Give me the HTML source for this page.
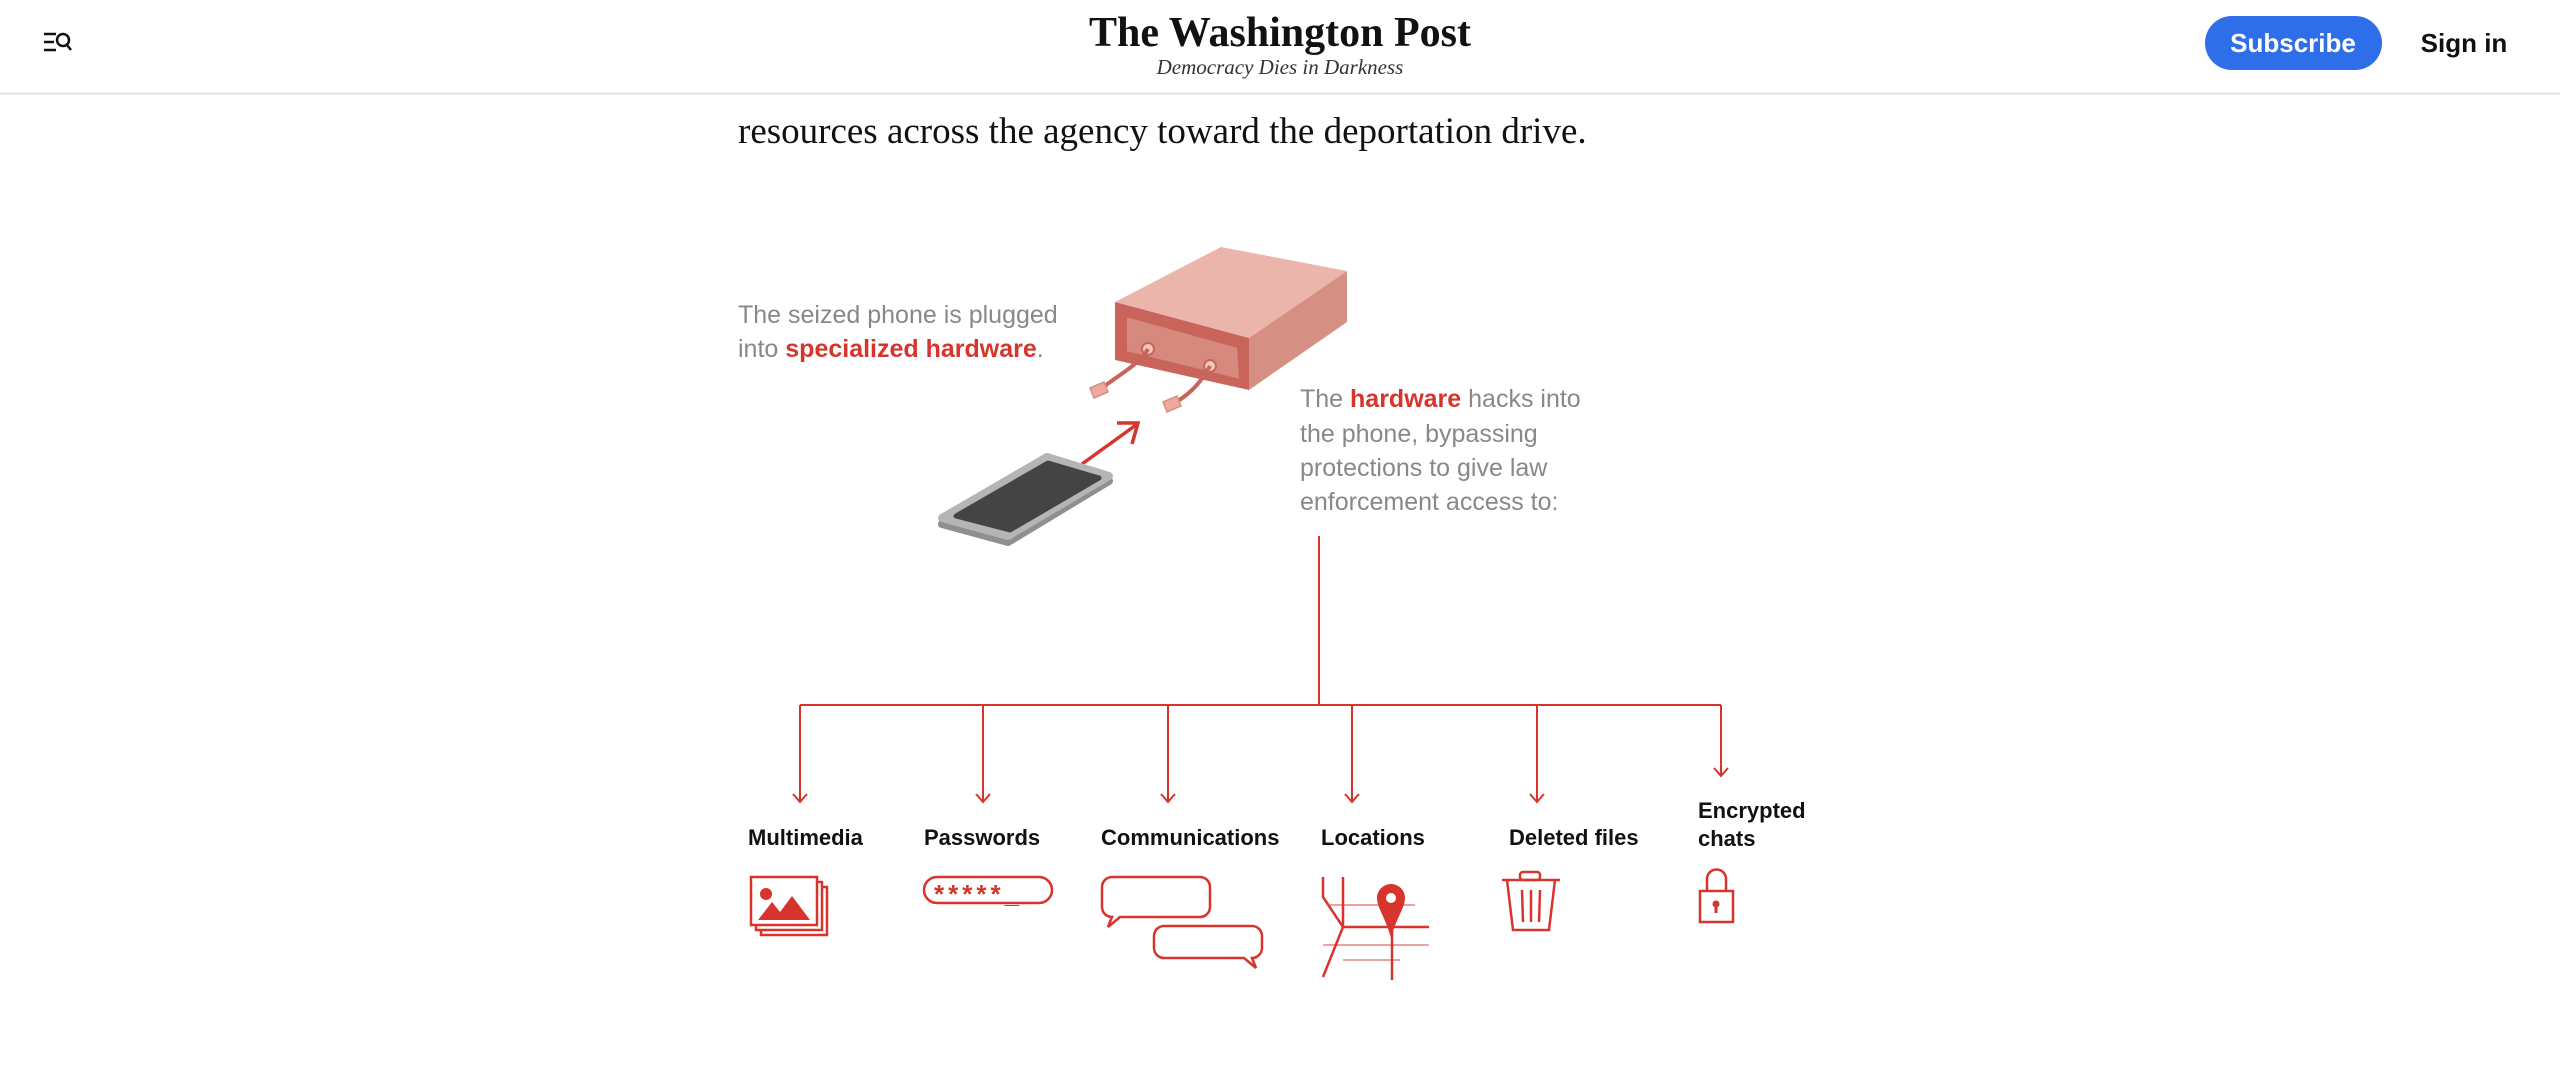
<!DOCTYPE html>
<html><head><meta charset="utf-8">
<style>
html,body{margin:0;padding:0;background:#fff;width:2560px;height:1080px;overflow:hidden}
svg{display:block}
</style></head>
<body>
<svg width="2560" height="1080" viewBox="0 0 2560 1080" xmlns="http://www.w3.org/2000/svg">
<rect x="0" y="0" width="2560" height="93" fill="#fff"/>
<line x1="0" y1="93.5" x2="2560" y2="93.5" stroke="#e2e2e2" stroke-width="2"/>
<g stroke="#111" stroke-width="2.5" fill="none">
<line x1="44" y1="34" x2="56" y2="34"/><line x1="44" y1="42" x2="54" y2="42"/><line x1="44" y1="50" x2="56" y2="50"/>
<circle cx="63" cy="40" r="6"/><line x1="67" y1="45" x2="71" y2="50"/>
</g>
<text x="1280" y="46" text-anchor="middle" font-family="Liberation Serif, serif" font-weight="bold" font-size="42" fill="#111">The Washington Post</text>
<text x="1280" y="74" text-anchor="middle" font-family="Liberation Serif, serif" font-style="italic" font-size="21" fill="#333">Democracy Dies in Darkness</text>
<rect x="2205" y="16" width="177" height="54" rx="27" fill="#2f6ee9"/>
<text x="2293" y="52" text-anchor="middle" font-family="Liberation Sans, sans-serif" font-weight="bold" font-size="26" fill="#fff">Subscribe</text>
<text x="2464" y="52" text-anchor="middle" font-family="Liberation Sans, sans-serif" font-weight="bold" font-size="26" fill="#111">Sign in</text>
<text x="738" y="143" font-family="Liberation Serif, serif" font-size="37" fill="#111">resources across the agency toward the deportation drive.</text>
<g font-family="Liberation Sans, sans-serif" font-size="25" fill="#888">
<text x="738" y="323">The seized phone is plugged</text>
<text x="738" y="357">into <tspan fill="#d6342c" font-weight="bold">specialized hardware</tspan>.</text>
<text x="1300" y="407">The <tspan fill="#d6342c" font-weight="bold">hardware</tspan> hacks into</text>
<text x="1300" y="442">the phone, bypassing</text>
<text x="1300" y="476">protections to give law</text>
<text x="1300" y="510">enforcement access to:</text>
</g>
<polygon points="1115,302 1221,247 1347,271 1249,338" fill="#ecb5ab"/>
<polygon points="1249,338 1347,271 1347,322 1249,390" fill="#d68f83"/>
<polygon points="1115,302 1249,338 1249,390 1115,360" fill="#c9645a"/>
<polygon points="1126,316 1238,347 1240,380 1126,352" fill="#d68a7e" stroke="#c9645a" stroke-width="2"/>
<circle cx="1148" cy="349" r="6" fill="#f4c6bc" stroke="#c9645a" stroke-width="2"/>
<circle cx="1210" cy="366" r="6" fill="#f4c6bc" stroke="#c9645a" stroke-width="2"/>
<path d="M1148,349 C1140,365 1110,380 1100,390" stroke="#c9645a" stroke-width="4" fill="none"/>
<path d="M1210,366 C1200,385 1185,398 1172,404" stroke="#c9645a" stroke-width="4" fill="none"/>
<g fill="#eeaa9e" stroke="#d68f83" stroke-width="1.5">
<polygon points="1090,388 1104,382 1108,392 1094,398"/>
<polygon points="1163,402 1177,396 1181,406 1167,412"/>
</g>
<line x1="1082" y1="464" x2="1136" y2="425" stroke="#d6342c" stroke-width="3.5"/>
<polyline points="1117,423 1138,423 1132,444" stroke="#d6342c" stroke-width="3.5" fill="none"/>
<!-- phone -->
<polygon points="942,524 1047,462 1109,481 1008,542" fill="#8f8f8f" stroke="#8f8f8f" stroke-width="8" stroke-linejoin="round"/>
<polygon points="942,518 1047,457 1109,476 1008,536" fill="#b5b5b5" stroke="#b5b5b5" stroke-width="8" stroke-linejoin="round"/>
<polygon points="956,516 1048,463 1099,478 1010,530" fill="#444" stroke="#444" stroke-width="5" stroke-linejoin="round"/>
<g stroke="#d6342c" stroke-width="2" fill="none">
<line x1="1319" y1="536" x2="1319" y2="705"/>
<line x1="800" y1="705" x2="1721" y2="705"/>
<line x1="800" y1="705" x2="800" y2="802"/><polyline points="793,794 800,802 807,794"/>
<line x1="983" y1="705" x2="983" y2="802"/><polyline points="976,794 983,802 990,794"/>
<line x1="1168" y1="705" x2="1168" y2="802"/><polyline points="1161,794 1168,802 1175,794"/>
<line x1="1352" y1="705" x2="1352" y2="802"/><polyline points="1345,794 1352,802 1359,794"/>
<line x1="1537" y1="705" x2="1537" y2="802"/><polyline points="1530,794 1537,802 1544,794"/>
<line x1="1721" y1="705" x2="1721" y2="776"/><polyline points="1714,768 1721,776 1728,768"/>
</g>
<g font-family="Liberation Sans, sans-serif" font-weight="bold" font-size="22" fill="#111">
<text x="748" y="845">Multimedia</text>
<text x="924" y="845">Passwords</text>
<text x="1101" y="845">Communications</text>
<text x="1321" y="845">Locations</text>
<text x="1509" y="845">Deleted files</text>
<text x="1698" y="818">Encrypted</text>
<text x="1698" y="846">chats</text>
</g>
<g stroke="#d6342c" stroke-width="2.5" fill="none">
<rect x="761" y="887" width="66" height="48" fill="#fff"/>
<rect x="756" y="882" width="66" height="48" fill="#fff"/>
<rect x="751" y="877" width="66" height="48" fill="#fff"/>
<rect x="924" y="877" width="128" height="26" rx="13"/>
<path d="M1112,877 h88 a10,10 0 0 1 10,10 v20 a10,10 0 0 1 -10,10 h-80 l-12,10 l4,-10 a10,10 0 0 1 -10,-10 v-20 a10,10 0 0 1 10,-10 z" fill="#fff"/>
<path d="M1164,926 h88 a10,10 0 0 1 10,10 v12 a10,10 0 0 1 -10,10 l4,10 l-12,-10 h-80 a10,10 0 0 1 -10,-10 v-12 a10,10 0 0 1 10,-10 z" fill="#fff"/>
<path d="M1323,877 v20 l20,30 l-20,50" />
<line x1="1343" y1="877" x2="1343" y2="927"/>
<line x1="1343" y1="927" x2="1429" y2="927"/>
<line x1="1392" y1="910" x2="1392" y2="980"/>
<line x1="1330" y1="905" x2="1415" y2="905" stroke-width="1.5" opacity=".6"/>
<line x1="1323" y1="945" x2="1429" y2="945" stroke-width="1.5" opacity=".6"/>
<line x1="1343" y1="960" x2="1400" y2="960" stroke-width="1.5" opacity=".6"/>
<line x1="1502" y1="880" x2="1560" y2="880"/>
<rect x="1520" y="872" width="20" height="8" rx="3"/>
<path d="M1507,880 l6,50 h36 l6,-50"/>
<line x1="1522" y1="890" x2="1523" y2="922"/><line x1="1531" y1="890" x2="1531" y2="922"/><line x1="1540" y1="890" x2="1539" y2="922"/>
<rect x="1700" y="891" width="33" height="31"/>
<path d="M1707,891 v-12 a9.5,9.5 0 0 1 19,0 v12"/>
</g>
<g fill="#d6342c">
<circle cx="766" cy="894" r="6"/>
<polygon points="758,920 772,902 780,912 792,896 810,920"/>
<text x="934" y="903" font-family="Liberation Sans, sans-serif" font-weight="bold" font-size="26" letter-spacing="4">*****_</text>
<path d="M1391,884 a14,14 0 0 1 14,14 c0,10 -8,18 -14,40 c-6,-22 -14,-30 -14,-40 a14,14 0 0 1 14,-14 z"/>
<circle cx="1716" cy="904" r="3.5"/><rect x="1714.5" y="905" width="3" height="8"/>
</g>
<circle cx="1391" cy="898" r="5" fill="#fff"/>
</svg>
</body></html>
